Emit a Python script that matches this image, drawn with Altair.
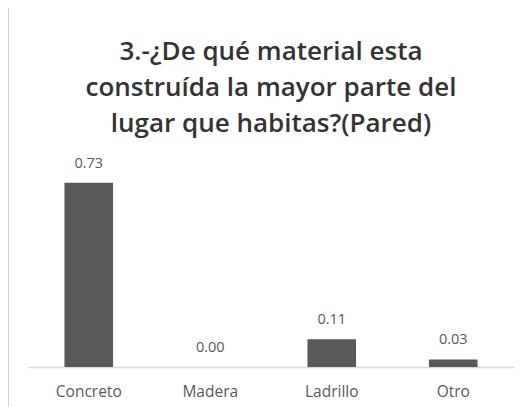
import altair as alt
import pandas as pd

categories = ["Concreto", "Madera", "Ladrillo", "Otro"]
values = [0.73, 0.00, 0.11, 0.03]
labels = ["0.73", "0.00", "0.11", "0.03"]

df = pd.DataFrame({"cat": categories, "val": values, "lab": labels})

x = alt.X("cat:N", sort=categories, title=None,
          scale=alt.Scale(paddingInner=0.6, paddingOuter=0.3),
          axis=alt.Axis(labelAngle=0, ticks=False, domain=True, domainColor="#d9d9d9",
                        domainWidth=1.5, labelColor="#595959", labelFont="Open Sans",
                        labelFontSize=15.5, labelPadding=17))
y = alt.Y("val:Q", scale=alt.Scale(domain=[0, 0.8]), axis=None)

base = alt.Chart(df)
bars = base.mark_bar(color="#595959").encode(x=x, y=y)
text = base.mark_text(dy=-19, font="Open Sans", fontSize=14.5, color="#595959").encode(
    x=x, y=y, text="lab:N")

frame_left = alt.Chart(df).mark_rule(color="#cfcfcf", strokeWidth=2).encode(
    x=alt.value(-20), y=alt.value(-158), y2=alt.value(260))
frame_top = alt.Chart(df).mark_rule(color="#cfcfcf", strokeWidth=2).encode(
    x=alt.value(-20), x2=alt.value(520), y=alt.value(-158))

chart = alt.layer(bars, text, frame_left, frame_top).properties(
    width=486, height=202,
    autosize=alt.AutoSizeParams(type="none"),
    padding={"left": 20, "top": 157, "right": 6, "bottom": 40},
    title=alt.TitleParams(
        text=["3.-¿De qué material esta", "construída la mayor parte del",
              "lugar que habitas?(Pared)"],
        font="Open Sans", fontSize=26, fontWeight=600, color="#333333",
        anchor="middle", lineHeight=36, offset=-131, frame="group"),
).configure_view(stroke=None)

chart.save("out.html", embed_options={"renderer": "svg", "actions": False})
